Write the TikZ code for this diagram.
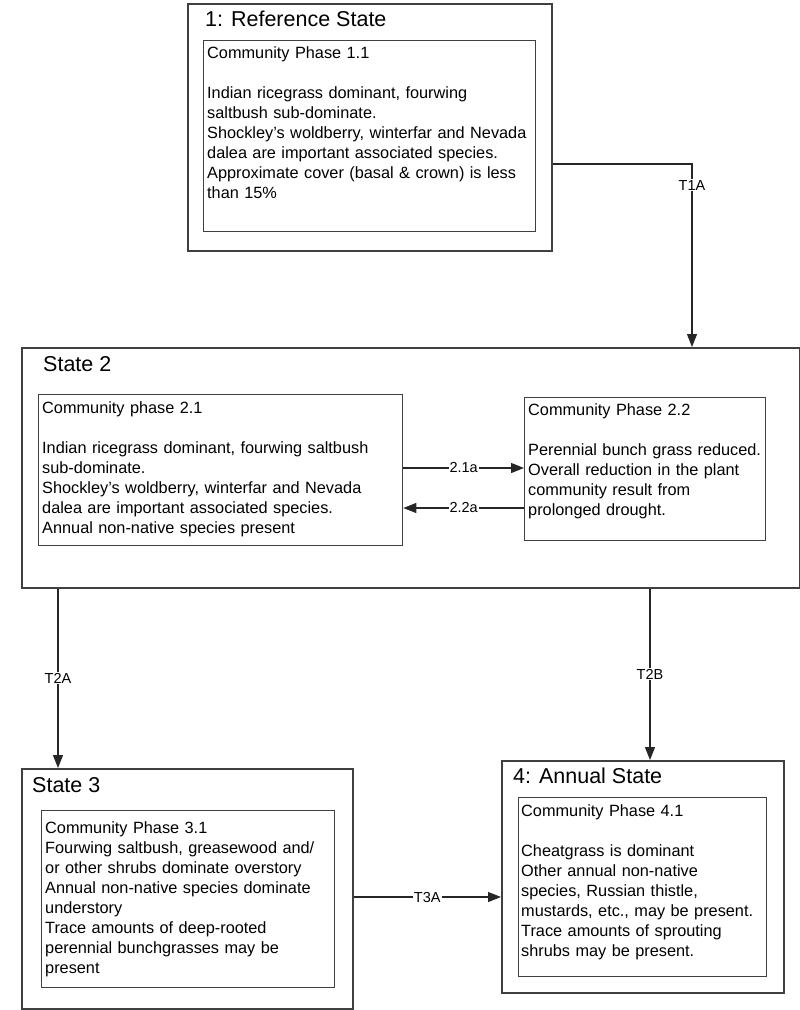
\documentclass[tikz,border=0pt]{standalone}
\usepackage{fontspec}
\setmainfont{Liberation Sans}
\usetikzlibrary{arrows.meta}

\begin{document}
\begin{tikzpicture}[x=1pt,y=-1pt,
  statebox/.style={draw=black!75, line width=1.5pt, anchor=north west, inner sep=0pt},
  phasebox/.style={draw=black!75, line width=1.3pt, anchor=north west, inner sep=0pt},
  statetitle/.style={anchor=base west, inner sep=0pt, font=\fontsize{21.5}{26}\selectfont},
  phasetext/.style={anchor=base west, inner sep=0pt, align=left, text width=#1,
    font=\fontsize{16.3}{20}\selectfont},
  trans/.style={draw=black!85, line width=1.1pt, -{Triangle[width=10pt,length=13pt]}},
  translabel/.style={fill=white, inner sep=1pt, font=\fontsize{14.5}{16}\selectfont}]
\useasboundingbox (0,0) rectangle (800,1010);

% state boxes
\node[statebox, minimum width=364pt, minimum height=247pt] (s1) at (187,3) {};
\node[statebox, minimum width=778pt, minimum height=240pt] (s2) at (21,347) {};
\node[statebox, minimum width=331pt, minimum height=240pt] (s3) at (21,768) {};
\node[statebox, minimum width=282pt, minimum height=232pt] (s4) at (501,760) {};

\node[statetitle] (s1title) at (205,26) {1: Reference State};
\node[statetitle] (s2title) at (43,371) {State 2};
\node[statetitle] (s3title) at (32,792) {State 3};
\node[statetitle] (s4title) at (513,783) {4: Annual State};

% community phases
\node[phasebox, minimum width=332pt, minimum height=191pt] (p11) at (203,40) {};
\node[phasebox, minimum width=364pt, minimum height=151pt] (p21) at (38,394) {};
\node[phasebox, minimum width=241pt, minimum height=143pt] (p22) at (524,397) {};
\node[phasebox, minimum width=293pt, minimum height=177pt] (p31) at (41,810) {};
\node[phasebox, minimum width=248pt, minimum height=179pt] (p41) at (518,797) {};

\node[phasetext=330pt] (p11text) at (207,58) {Community Phase 1.1\\[20pt]
  Indian ricegrass dominant, fourwing\\
  saltbush sub-dominate.\\
  Shockley’s woldberry, winterfar and Nevada\\
  dalea are important associated species.\\
  Approximate cover (basal \& crown) is less\\
  than 15\%};
\node[phasetext=360pt] (p21text) at (42,413) {Community phase 2.1\\[20pt]
  Indian ricegrass dominant, fourwing saltbush\\
  sub-dominate.\\
  Shockley’s woldberry, winterfar and Nevada\\
  dalea are important associated species.\\
  Annual non-native species present};
\node[phasetext=240pt] (p22text) at (528,415) {Community Phase 2.2\\[20pt]
  Perennial bunch grass reduced.\\
  Overall reduction in the plant\\
  community result from\\
  prolonged drought.};
\node[phasetext=290pt] (p31text) at (45,833) {Community Phase 3.1\\
  Fourwing saltbush, greasewood and/\\
  or other shrubs dominate overstory\\
  Annual non-native species dominate\\
  understory\\
  Trace amounts of deep-rooted\\
  perennial bunchgrasses may be\\
  present};
\node[phasetext=246pt] (p41text) at (521,816) {Community Phase 4.1\\[20pt]
  Cheatgrass is dominant\\
  Other annual non-native\\
  species, Russian thistle,\\
  mustards, etc., may be present.\\
  Trace amounts of sprouting\\
  shrubs may be present.};

% transitions
\coordinate (t1a) at (692,164);
\coordinate (t2a) at (58,0);
\coordinate (t2b) at (650,0);
\coordinate (t3a) at (0,897);
\coordinate (r21) at (0,468);
\coordinate (r22) at (0,508);
\draw[trans] (s1.east |- t1a) -- (t1a) -- node[translabel, pos=0.115] {T1A} (s2.north -| t1a);
\draw[trans] (p21.east |- r21) -- node[translabel] {2.1a} (p22.west |- r21);
\draw[trans] (p22.west |- r22) -- node[translabel] {2.2a} (p21.east |- r22);
\draw[trans] (s2.south -| t2a) -- node[translabel] {T2A} (s3.north -| t2a);
\draw[trans] (s2.south -| t2b) -- node[translabel] {T2B} (s4.north -| t2b);
\draw[trans] (s3.east |- t3a) -- node[translabel] {T3A} (s4.west |- t3a);
\end{tikzpicture}
\end{document}
